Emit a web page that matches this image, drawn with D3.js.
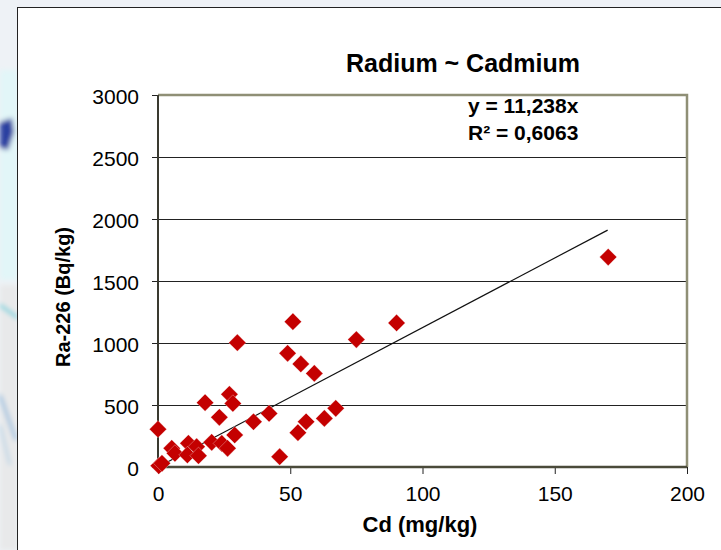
<!DOCTYPE html>
<html>
<head>
<meta charset="utf-8">
<script src="https://cdn.jsdelivr.net/npm/d3@7"></script>
<style>
  body { margin: 0; background: #fff; }
  svg { display: block; font-family: "Liberation Sans", Arial, sans-serif; }
</style>
</head>
<body>
<svg width="721" height="550"></svg>
<script>
// Cd (mg/kg) vs Ra-226 (Bq/kg)
var cd = [0.3, 1.5, 0, 5.2, 6.4, 11.5, 11.1, 14.6, 15.3, 20.3, 24.1, 26.3, 17.8, 23.2, 27, 28.3,
          29, 36.1, 42, 30, 46, 51, 49, 54, 59.1, 75, 52.9, 56, 62.9, 67.2, 90.2, 170.2]
var ra = [10, 30, 305, 151, 110, 191, 97, 164, 91, 199, 190, 151, 519, 401, 586, 513,
          258, 365, 432, 1003, 83, 1172, 917, 831, 755, 1028, 277, 365, 392, 473, 1162, 1693]
var xTicks = [0, 50, 100, 150, 200]
var yTicks = [0, 500, 1000, 1500, 2000, 2500, 3000]
var slope = 11.238
var trendRange = [0, 170]

var margins = {top: 95, right: 34, bottom: 83, left: 158}
var width = 721 - margins.left - margins.right
var height = 550 - margins.top - margins.bottom

var svg = d3.select("svg")

// blurred background picture on the left edge
var defs = svg.append("defs")
defs.append("filter").attr("id", "blur")
    .append("feGaussianBlur").attr("stdDeviation", 2.5)
var bg = svg.append("g")
bg.append("rect").attr("x", 0).attr("y", 0).attr("width", 721).attr("height", 8).attr("fill", "#eef1f6")
bg.append("rect").attr("x", 0).attr("y", 0).attr("width", 18).attr("height", 550).attr("fill", "#eef2f6")
var blurG = bg.append("g").attr("filter", "url(#blur)")
blurG.append("rect").attr("x", 0).attr("y", 70).attr("width", 18).attr("height", 210).attr("fill", "#e2f6f8")
blurG.append("rect").attr("x", 0).attr("y", 285).attr("width", 18).attr("height", 265).attr("fill", "#e8e9ea")
blurG.append("path").attr("d", "M0,122 L12,118 L14,132 L8,150 L0,148 Z").attr("fill", "#2a3fa0")
blurG.append("path").attr("d", "M0,305 L18,318").attr("stroke", "#60d0dc").attr("stroke-width", 3)
blurG.append("path").attr("d", "M0,395 L16,440").attr("stroke", "#8cb8dc").attr("stroke-width", 3)
blurG.append("path").attr("d", "M0,425 L10,465").attr("stroke", "#a8cce4").attr("stroke-width", 2)

// chart frame
svg.append("rect")
    .attr("x", 17.5).attr("y", 7.5)
    .attr("width", 721).attr("height", 560)
    .attr("fill", "#fff").attr("stroke", "#222").attr("stroke-width", 1)

var g = svg.append("g")
    .attr("transform", "translate(" + margins.left + "," + margins.top + ")")

var xScale = d3.scaleLinear().domain([0, 200]).range([0, width])
var yScale = d3.scaleLinear().domain([0, 3000]).range([height, 0])

// gridlines
g.selectAll(".grid")
    .data(yTicks.filter(function(d) { return d > 0 && d < 3000 }))
    .enter()
    .append("line")
    .attr("x1", 0).attr("x2", width)
    .attr("y1", function(d) { return Math.round(yScale(d)) + 0.5 })
    .attr("y2", function(d) { return Math.round(yScale(d)) + 0.5 })
    .attr("stroke", "#222").attr("stroke-width", 1)

// plot border top/right
g.append("path")
    .attr("d", "M0,0 H" + width + " V" + height)
    .attr("fill", "none").attr("stroke", "#8f8f76").attr("stroke-width", 2.5)

// axes
var xAxis = d3.axisBottom(xScale).tickValues(xTicks).tickSize(7).tickPadding(12)
    .tickFormat(d3.format("d"))
var yAxis = d3.axisLeft(yScale).tickValues(yTicks).tickSize(6).tickPadding(13)
    .tickFormat(d3.format("d"))

var xg = g.append("g")
    .attr("transform", "translate(0," + height + ")")
    .call(xAxis)
var yg = g.append("g").call(yAxis)

xg.select(".domain").remove()
yg.select(".domain").remove()
g.append("line").attr("x1", 0).attr("x2", width).attr("y1", height).attr("y2", height)
    .attr("stroke", "#4a4a3a").attr("stroke-width", 2.5)
g.append("line").attr("x1", 0).attr("x2", 0).attr("y1", 0).attr("y2", height)
    .attr("stroke", "#3a3a30").attr("stroke-width", 2)

xg.selectAll(".tick line").attr("stroke", "#222")
yg.selectAll(".tick line").attr("stroke", "#222")
xg.selectAll("text").attr("font-size", 21).attr("fill", "#000")
    .attr("font-family", "Liberation Sans, Arial, sans-serif")
yg.selectAll("text").attr("font-size", 21).attr("fill", "#000")
    .attr("font-family", "Liberation Sans, Arial, sans-serif")
    .attr("dy", "0.42em")

// trend line
g.append("line")
    .attr("x1", xScale(trendRange[0])).attr("y1", yScale(slope * trendRange[0]))
    .attr("x2", xScale(trendRange[1])).attr("y2", yScale(slope * trendRange[1]))
    .attr("stroke", "#111").attr("stroke-width", 1.2)

// points
var diamond = "M0,-8.6 L8.6,0 L0,8.6 L-8.6,0 Z"
g.selectAll(".pt")
    .data(cd)
    .enter()
    .append("path")
    .attr("d", diamond)
    .attr("transform", function(d, i) {
        return "translate(" + xScale(d) + "," + yScale(ra[i]) + ")"
    })
    .attr("fill", "#c40000")
    .attr("stroke", "#fff").attr("stroke-width", 0.5).attr("stroke-opacity", 0.6)

// titles
svg.append("text")
    .attr("x", 463).attr("y", 72)
    .attr("text-anchor", "middle")
    .attr("font-size", 25).attr("font-weight", "bold")
    .text("Radium ~ Cadmium")

svg.append("text")
    .attr("x", 420).attr("y", 532)
    .attr("text-anchor", "middle")
    .attr("font-size", 22).attr("font-weight", "bold")
    .text("Cd (mg/kg)")

svg.append("text")
    .attr("transform", "translate(70,297) rotate(-90)")
    .attr("text-anchor", "middle")
    .attr("font-size", 20).attr("font-weight", "bold")
    .text("Ra-226 (Bq/kg)")

// equation label
svg.append("text")
    .attr("x", 468).attr("y", 113)
    .attr("font-size", 21).attr("font-weight", "bold")
    .text("y = 11,238x")
svg.append("text")
    .attr("x", 468).attr("y", 140)
    .attr("font-size", 21).attr("font-weight", "bold")
    .text("R² = 0,6063")
</script>
</body>
</html>
